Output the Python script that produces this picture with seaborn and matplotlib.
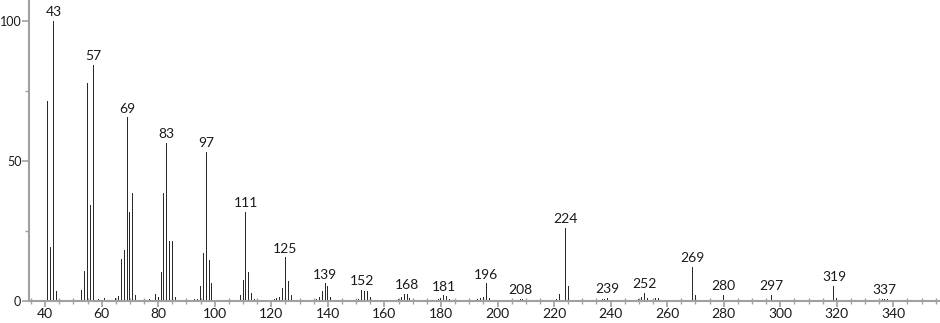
import matplotlib
matplotlib.use("Agg")
import matplotlib.pyplot as plt
from matplotlib.ticker import MultipleLocator, FixedLocator
import seaborn as sns
import pandas as pd

# ---- data (m/z and relative intensity) ----
mz = [41, 42, 43, 44, 45, 46, 48, 50, 51, 52, 53, 54, 55, 56, 57, 58, 59, 60, 61, 63,
      65, 66, 67, 68, 69, 70, 71, 72, 73, 75, 77, 78, 79, 80, 81, 82, 83, 84, 85, 86,
      87, 91, 93, 94, 95, 96, 97, 98, 99, 100, 101, 105, 107, 108, 109, 110, 111, 112, 113, 114,
      116, 119, 121, 122, 123, 124, 125, 126, 127, 128, 133, 135, 136, 137, 138, 139, 140, 141, 142,
      149, 150, 151, 152, 153, 154, 155, 156, 163, 164, 165, 166, 167, 168, 169, 170,
      177, 178, 179, 180, 181, 182, 183, 191, 193, 194, 195, 196, 197,
      205, 207, 208, 209, 210, 219, 220, 221, 222, 224, 225, 226,
      236, 237, 238, 239, 240, 249, 250, 251, 252, 253, 254, 255, 256, 257, 258,
      266, 267, 269, 270, 271, 280, 281, 282, 283, 295, 296, 297, 298,
      319, 320, 321, 336, 337, 338]
intensity = [71.5, 19.2, 100.0, 3.6, 0.4, 0.3, 0.4, 0.4, 0.5, 0.4, 3.9, 10.8, 78.0, 34.4, 84.3, 3.6, 0.8, 0.3, 1.2, 0.3,
             1.0, 1.8, 14.9, 18.2, 65.6, 31.8, 38.7, 2.2, 0.3, 0.3, 0.7, 0.5, 2.4, 1.5, 10.5, 38.4, 56.5, 21.4, 21.4, 1.5,
             0.3, 0.5, 0.7, 0.7, 5.4, 17.3, 53.3, 14.6, 6.3, 0.4, 0.3, 0.5, 0.4, 0.5, 2.1, 7.5, 31.9, 10.5, 2.8, 0.7,
             0.3, 0.3, 0.7, 1.0, 1.5, 4.8, 15.6, 7.1, 2.0, 0.5, 0.3, 0.4, 0.6, 1.5, 3.6, 6.3, 5.5, 1.5, 0.3,
             0.4, 0.5, 0.6, 3.9, 3.6, 3.6, 1.4, 0.3, 0.3, 0.5, 0.7, 1.5, 2.4, 2.6, 1.0, 0.4,
             0.4, 0.5, 0.6, 1.2, 2.0, 1.9, 0.6, 0.3, 0.6, 1.0, 1.5, 6.3, 1.0,
             0.3, 0.5, 0.8, 0.6, 0.4, 0.4, 0.3, 0.7, 2.4, 26.0, 5.4, 0.5,
             0.3, 0.6, 0.8, 1.2, 0.4, 0.4, 0.8, 1.5, 3.0, 1.2, 0.5, 1.0, 1.2, 1.0, 0.5,
             0.3, 0.5, 12.3, 2.1, 0.5, 2.1, 0.5, 0.5, 0.5, 0.5, 0.4, 2.1, 0.5,
             5.4, 1.0, 0.3, 0.7, 0.8, 0.6]
labeled_peaks = [43, 57, 69, 83, 97, 111, 125, 139, 152, 168, 181, 196, 208,
                 224, 239, 252, 269, 280, 297, 319, 337]
x_ticks = list(range(40, 341, 20))
y_ticks = [0, 50, 100]

df = pd.DataFrame({"mz": mz, "intensity": intensity})

sns.set_style("ticks")
plt.rcParams["font.family"] = ["Lato", "DejaVu Sans"]

fig = plt.figure(figsize=(9.4, 3.23), dpi=100)
ax = fig.add_axes([29 / 940, 22 / 323, 911 / 940, 301 / 323])

sns.barplot(data=df, x="mz", y="intensity", native_scale=True, width=0.34,
            color="#2a2a2a", saturation=1, linewidth=0, errorbar=None, ax=ax)

lookup = dict(zip(mz, intensity))
for p in labeled_peaks:
    ax.annotate(str(p), (p, lookup[p]), xytext=(0, 2), textcoords="offset points",
                ha="center", va="bottom", fontsize=10, color="#1a1a1a")

ax.set_xlim(34.3, 356.5)
ax.set_ylim(0, 107.5)
ax.set_xticks(x_ticks)
ax.set_xticklabels([str(t) for t in x_ticks])
ax.xaxis.set_minor_locator(MultipleLocator(5))
ax.set_yticks(y_ticks)
ax.set_yticklabels([str(t) for t in y_ticks])
ax.yaxis.set_minor_locator(FixedLocator([25, 75]))
ax.set_xlabel("")
ax.set_ylabel("")

for s in ["top", "right"]:
    ax.spines[s].set_visible(False)
for s in ["left", "bottom"]:
    ax.spines[s].set_color("#a0a0a0")
    ax.spines[s].set_linewidth(1.5)

ax.tick_params(axis="x", which="major", direction="out", length=4, width=1.2,
               color="#a0a0a0", pad=1, labelsize=10, labelcolor="#1a1a1a")
ax.tick_params(axis="x", which="minor", direction="inout", length=4, width=1,
               color="#a0a0a0")
ax.tick_params(axis="y", which="major", direction="out", length=5, width=1.2,
               color="#a0a0a0", pad=0.5, labelsize=9, labelcolor="#1a1a1a")
ax.tick_params(axis="y", which="minor", direction="out", length=3, width=1,
               color="#a0a0a0")

fig.savefig("out.png", dpi=100)
